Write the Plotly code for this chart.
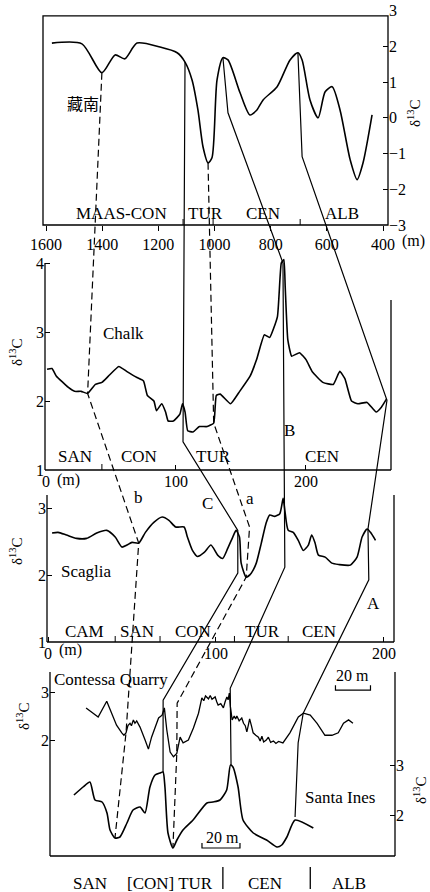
import plotly.graph_objects as go

W, H = 430, 892

# ---------------- data ----------------
# Southern Tibet (藏南): depth (m) vs d13C
tibet_m = [1579, 1472, 1401, 1354, 1319, 1276, 1194, 1133, 1105, 1080, 1059, 1041, 1023, 1009,
           991, 970, 952, 909, 874, 849, 827, 777, 731, 703, 688, 660, 631, 606, 581, 553,
           517, 492, 471, 439]
tibet_d13c = [2.09, 2.07, 1.26, 1.76, 1.65, 2.09, 1.98, 1.82, 1.56, 1.06, 0.22, -0.81, -1.26, -1.12,
              1.06, 1.68, 1.62, 0.70, 0.08, 0.22, 0.50, 0.87, 1.62, 1.82, 1.62, 0.50, 0.0, 0.73, 0.87, 0.22,
              -1.17, -1.73, -1.26, 0.08]
tibet_ticks = [1600, 1400, 1200, 1000, 800, 600, 400]
tibet_yticks = [-3, -2, -1, 0, 1, 2, 3]
tibet_stage_bounds = [1112, 1005, 695]

# Chalk
chalk_m = [0.8, 4.6, 8, 13, 17, 22, 27, 32, 38, 43, 48, 56, 62, 70, 75, 78, 83, 85, 89, 92,
           94, 98, 103, 105, 107, 109, 113, 118, 124, 129, 131, 134, 142, 149, 157, 162, 168, 172, 178, 181,
           183, 184, 186, 189, 195, 200, 205, 213, 221, 226, 230, 235, 240, 247, 254, 258, 262]
chalk_d13c = [2.46, 2.47, 2.36, 2.27, 2.2, 2.14, 2.14, 2.11, 2.24, 2.27, 2.36, 2.5, 2.43, 2.34, 2.29, 2.08, 2.0, 1.86, 1.96, 1.84,
              1.71, 1.71, 1.81, 1.96, 1.84, 1.57, 1.55, 1.63, 1.63, 1.68, 2.08, 2.1, 1.96, 2.14, 2.36, 2.6, 2.96, 2.92, 3.22, 4.0,
              4.05, 3.66, 2.89, 2.65, 2.7, 2.6, 2.42, 2.27, 2.24, 2.43, 2.32, 2.0, 1.96, 1.98, 1.84, 1.91, 2.03]
chalk_ticks = [0, 100, 200]
chalk_yticks = [1, 2, 3, 4]
chalk_stage_bounds = [43]

# Scaglia
scaglia_m = [2.4, 6, 11, 17, 23, 29, 35, 40, 44, 47, 50, 54, 58, 63, 68, 72, 76, 81, 83, 86,
             89, 93, 97, 101, 104, 107, 110, 112, 114, 115, 118, 121, 124, 127, 130, 132, 135, 138, 140, 141,
             143, 146, 149, 152, 155, 157, 159, 161, 165, 169, 173, 180, 184, 187, 190, 192, 195]
scaglia_d13c = [2.63, 2.64, 2.6, 2.55, 2.55, 2.63, 2.67, 2.57, 2.42, 2.45, 2.49, 2.48, 2.64, 2.79, 2.87, 2.82, 2.72, 2.72, 2.57, 2.37,
                2.28, 2.34, 2.45, 2.3, 2.25, 2.4, 2.57, 2.67, 2.57, 2.18, 1.97, 2.03, 2.18, 2.48, 2.79, 2.9, 2.88, 2.92, 3.15, 2.97,
                2.67, 2.64, 2.52, 2.37, 2.45, 2.6, 2.48, 2.3, 2.27, 2.18, 2.16, 2.15, 2.27, 2.57, 2.69, 2.64, 2.52]
scaglia_ticks = [0, 100, 200]
scaglia_yticks = [1, 2, 3]
scaglia_stage_bounds = [40, 66.7, 111, 143]

# Contessa Quarry (relative metres)
contessa_m = [20.6, 27.5, 32.4, 35.2, 38, 41, 42.2, 43.4, 44.5, 45.7, 46.5, 47.6, 48.5, 49.5, 51.4, 54.3, 56.2, 58, 60, 62,
              64, 65.3, 66.7, 68.6, 70.5, 72.4, 74.3, 76, 79, 81.9, 84.8, 86.7, 87.8, 88.8, 90.5, 91.5, 92.5, 94.3, 95.2, 96,
              97.5, 99, 100, 101, 101.7, 102.4, 103, 104, 105.2, 106, 106.7, 108, 109.5, 110.5, 111.5, 112.4, 113.2, 114, 115, 116,
              117.5, 119, 120, 121, 122, 123.5, 124.7, 126, 127.6, 129, 130.5, 133, 137, 141.8, 144.7, 148.6, 152.5, 157, 161, 164.6,
              167.6, 170.5, 173]
contessa_d13c = [2.67, 2.48, 2.81, 2.56, 2.31, 2.15, 2.1, 2.15, 2.3, 2.35, 2.3, 2.42, 2.35, 2.4, 2.27, 2.0, 1.81, 2.06, 2.25, 2.46,
                 2.52, 2.67, 2.21, 1.75, 1.65, 1.72, 2.06, 1.94, 2.0, 2.25, 2.56, 2.88, 2.82, 2.92, 2.86, 2.93, 2.85, 2.9, 2.8, 2.73,
                 2.76, 2.67, 2.8, 2.9, 2.84, 2.98, 2.7, 2.42, 2.5, 2.44, 2.5, 2.4, 2.46, 2.35, 2.3, 2.17, 2.3, 2.44, 2.3, 2.15,
                 2.1, 2.06, 1.98, 2.08, 1.96, 2.0, 2.06, 1.95, 1.98, 1.93, 1.97, 1.94, 2.15, 2.48, 2.56, 2.52, 2.35, 2.1, 2.1, 2.15,
                 2.35, 2.42, 2.35]
contessa_yticks = [2, 3]

# Santa Ines (relative metres)
santa_m = [12.6, 17.4, 21, 23.7, 27.4, 30, 31.6, 34.2, 36.8, 40.5, 43.7, 47.4, 50, 52.6, 55.3, 57.9, 59.5, 60.5, 62.1, 64.7,
           66.8, 70, 75.3, 82.6, 85.8, 89.5, 93, 95, 96.3, 99, 101.6, 107, 114, 119.5, 122, 124.7, 129, 138.6]
santa_d13c = [2.4, 2.56, 2.66, 2.3, 2.26, 2.04, 1.7, 1.54, 1.56, 1.84, 2.1, 2.16, 2.04, 2.56, 2.8, 2.84, 2.86, 2.56, 1.64, 1.34,
              1.5, 1.7, 1.9, 2.24, 2.26, 2.3, 2.5, 3.0, 2.96, 2.56, 1.9, 1.64, 1.5, 1.36, 1.4, 1.56, 1.9, 1.74]
santa_yticks = [2, 3]
bottom_stage_bounds = [91, 137]   # Santa Ines metres
scale_bar_m = 20

# Correlation (tie) lines: (section, metres, d13C)
tie_b = [("tibet", 1401, 1.26), ("chalk", 32, 2.11), ("scaglia", 54, 2.48),
         ("contessa", 43.4, 2.15), ("santa", 34.2, 1.54)]
tie_a = [("tibet", 1023, -1.26), ("chalk", 129, 1.68), ("scaglia", 120, 2.72), ("scaglia", 118, 1.97),
         ("contessa", 72.6, 2.77), ("contessa", 72.4, 1.72), ("santa", 64.7, 1.34)]
tie_C = [("tibet", 1105, 1.56), ("chalk", 105.4, 1.41), ("scaglia", 113, 2.67), ("scaglia", 113, 2.03),
         ("contessa", 64.6, 2.83), ("santa", 59.5, 2.86)]
tie_B = [("tibet", 970, 1.68), ("tibet", 952, 0.14), ("chalk", 182.3, 4.0), ("scaglia", 141, 3.15),
         ("scaglia", 141, 2.12), ("contessa", 102.9, 3.08), ("santa", 95.3, 3.0)]
tie_A = [("tibet", 703, 1.82), ("tibet", 688, -1.09), ("chalk", 262.3, 2.01), ("scaglia", 190.5, 2.69),
         ("scaglia", 191, 1.93), ("contessa", 144.6, 2.56), ("contessa", 141.7, 1.94), ("santa", 129, 1.96)]

# ---------------- layout geometry (pixels) ----------------
GEO = {
    "tibet":    dict(xd=(43, 388), xr=(1610.7, 382.2), yd=(10.6, 225), yr=(-3, 3)),
    "chalk":    dict(xd=(45, 391), xr=(-0.77, 265.4), yd=(257.5, 470), yr=(1, 4.08)),
    "scaglia":  dict(xd=(47, 394), xr=(-0.6, 206), yd=(493.6, 642), yr=(1, 3.22)),
    "contessa": dict(xd=(50, 395), xr=(0, 197), yd=(672, 856), yr=(-0.42, 3.42)),
    "santa":    dict(xd=(50, 395), xr=(0, 181.6), yd=(672, 856), yr=(1.18, 4.86)),
}
AX = {"tibet": ("x", "y"), "chalk": ("x2", "y2"), "scaglia": ("x3", "y3"),
      "contessa": ("x4", "y4"), "santa": ("x5", "y5")}


def to_px(panel, x, y):
    g = GEO[panel]
    (xa, xb), (r0, r1) = g["xd"], g["xr"]
    (yt, yb), (lo, hi) = g["yd"], g["yr"]
    return (xa + (x - r0) / (r1 - r0) * (xb - xa),
            yb - (y - lo) / (hi - lo) * (yb - yt))


def dom_x(p):
    g = GEO[p]
    return [g["xd"][0] / W, g["xd"][1] / W]


def dom_y(p):
    g = GEO[p]
    return [1 - g["yd"][1] / H, 1 - g["yd"][0] / H]


SERIF = "Liberation Serif"
CJK = "Noto Sans CJK SC"
tf = dict(family=SERIF, size=16, color="black")

fig = go.Figure()


def curve(panel, xs, ys, shape="spline", smooth=0.6, width=1.6):
    xa, ya = AX[panel]
    line = dict(color="black", width=width, shape=shape)
    if shape == "spline":
        line["smoothing"] = smooth
    fig.add_trace(go.Scatter(x=xs, y=ys, xaxis=xa, yaxis=ya, mode="lines",
                             line=line, hoverinfo="skip", showlegend=False))


curve("tibet", tibet_m, tibet_d13c, smooth=0.7)
curve("chalk", chalk_m, chalk_d13c, smooth=0.4)
curve("scaglia", scaglia_m, scaglia_d13c, smooth=0.6)
curve("contessa", contessa_m, contessa_d13c, shape="linear", width=1.3)
curve("santa", santa_m, santa_d13c, smooth=0.6)

# tie lines on a full-figure pixel overlay
for tie, dash in [(tie_b, "7px,4px"), (tie_a, "7px,4px"), (tie_C, "solid"),
                  (tie_B, "solid"), (tie_A, "solid")]:
    pts = [to_px(*p) for p in tie]
    fig.add_trace(go.Scatter(x=[p[0] for p in pts], y=[p[1] for p in pts], xaxis="x6", yaxis="y6",
                             mode="lines", line=dict(color="black", width=1.2, dash=dash),
                             hoverinfo="skip", showlegend=False))

# scale bars (20 m) for Contessa and Santa Ines
for panel, x0, y0 in [("contessa", 163, 3.04), ("santa", 80, 1.34)]:
    g = GEO[panel]
    dy = 5 / (g["yd"][1] - g["yd"][0]) * (g["yr"][1] - g["yr"][0])
    xa, ya = AX[panel]
    fig.add_trace(go.Scatter(x=[x0, x0, x0 + scale_bar_m, x0 + scale_bar_m],
                             y=[y0 + dy, y0, y0, y0 + dy], xaxis=xa, yaxis=ya, mode="lines",
                             line=dict(color="black", width=1.2), hoverinfo="skip", showlegend=False))

# ---------------- shapes: frames and stage ticks ----------------
shapes = []
L = dict(color="black", width=1.3)


def seg(xref, yref, x0, y0, x1, y1, line=L):
    shapes.append(dict(type="line", xref=xref, yref=yref, x0=x0, y0=y0, x1=x1, y1=y1, line=line))


# Tibet full box
shapes.append(dict(type="rect", xref="x domain", yref="y domain", x0=0, x1=1, y0=0,
                   y1=(2.85 + 3) / 6, line=L))
# Chalk: left, bottom, right
seg("x2 domain", "y2 domain", 0, 0, 0, 3 / 3.08)
seg("x2 domain", "y2 domain", 0, 0, 1, 0)
seg("x2 domain", "y2 domain", 1, 0, 1, 0.8)
# Scaglia
seg("x3 domain", "y3 domain", 0, 0, 0, 0.99)
seg("x3 domain", "y3 domain", 0, 0, 1, 0)
seg("x3 domain", "y3 domain", 1, 0, 1, 0.99)
# Contessa / Santa Ines
seg("x4 domain", "y4 domain", 0, 0, 0, 1)
seg("x4 domain", "y4 domain", 0, 0, 1, 0)
seg("x4 domain", "y4 domain", 1, 0, 1, 1)

for panel, bounds in [("tibet", tibet_stage_bounds), ("chalk", chalk_stage_bounds),
                      ("scaglia", scaglia_stage_bounds)]:
    g = GEO[panel]
    xa, ya = AX[panel]
    h = 6 / (g["yd"][1] - g["yd"][0])
    for b in bounds:
        seg(xa, ya + " domain", b, 0, b, h, dict(color="black", width=1))

for b in bottom_stage_bounds:
    seg("x5", "y6", b, 867, b, 889, dict(color="black", width=1.3))

# ---------------- text ----------------
ann = []


def txt(s, x, y, size=17, font=SERIF, xanchor="center", angle=0):
    ann.append(dict(text=s, x=x, y=y, xref="x6", yref="y6", showarrow=False, xanchor=xanchor,
                    yanchor="middle", textangle=angle, font=dict(family=font, size=size, color="black")))


d13 = "δ<sup>13</sup>C"
txt("藏南", 83, 103, 16, CJK)
for s, x in [("MAAS-CON", 121), ("TUR", 205), ("CEN", 263), ("ALB", 342)]:
    txt(s, x, 213)
txt("(m)", 413, 241, 16)
txt(d13, 414, 113, 15, angle=-90)

txt("Chalk", 123, 333)
txt("B", 289, 430)
for s, x in [("SAN", 75), ("CON", 139), ("TUR", 213), ("CEN", 322)]:
    txt(s, x, 456)
txt("(m)", 68, 480, 16)
txt(d13, 16, 352, 15, angle=-90)

txt("b", 138, 497)
txt("C", 207, 503)
txt("a", 250, 498)
txt("Scaglia", 86, 571)
txt("A", 373, 603)
for s, x in [("CAM", 84), ("SAN", 137), ("CON", 193), ("TUR", 262), ("CEN", 319)]:
    txt(s, x, 631)
txt("(m)", 70, 650, 16)
txt(d13, 16, 551, 15, angle=-90)

txt("Contessa Quarry", 52, 679, xanchor="left")
txt("20 m", 352, 675, 16)
txt("20 m", 222, 837, 16)
txt("Santa Ines", 340, 797)
txt(d13, 23, 716, 15, angle=-90)
txt(d13, 420, 790, 15, angle=-90)
for s, x in [("SAN", 90), ("[CON] TUR", 170), ("CEN", 265), ("ALB", 349)]:
    txt(s, x, 883)

# ---------------- axes ----------------
base = dict(showgrid=False, zeroline=False, showline=False, tickfont=tf, tickcolor="black",
            ticklen=5, tickwidth=1.2, fixedrange=True, automargin=False)

fig.update_layout(
    width=W, height=H, autosize=False,
    margin=dict(l=0, r=0, t=0, b=0, pad=0, autoexpand=False),
    paper_bgcolor="white", plot_bgcolor="rgba(0,0,0,0)",
    showlegend=False,
    xaxis=dict(base, domain=dom_x("tibet"), range=list(GEO["tibet"]["xr"]), anchor="y",
               tickvals=tibet_ticks, ticks="outside"),
    yaxis=dict(base, domain=dom_y("tibet"), range=list(GEO["tibet"]["yr"]), anchor="x",
               side="right", tickvals=tibet_yticks, ticks="inside"),
    xaxis2=dict(base, domain=dom_x("chalk"), range=list(GEO["chalk"]["xr"]), anchor="y2",
                tickvals=chalk_ticks, ticks="inside"),
    yaxis2=dict(base, domain=dom_y("chalk"), range=list(GEO["chalk"]["yr"]), anchor="x2",
                tickvals=chalk_yticks, ticks="inside"),
    xaxis3=dict(base, domain=dom_x("scaglia"), range=list(GEO["scaglia"]["xr"]), anchor="y3",
                tickvals=scaglia_ticks, ticks="inside"),
    yaxis3=dict(base, domain=dom_y("scaglia"), range=list(GEO["scaglia"]["yr"]), anchor="x3",
                tickvals=scaglia_yticks, ticks="inside"),
    xaxis4=dict(base, domain=dom_x("contessa"), range=list(GEO["contessa"]["xr"]), anchor="y4",
                visible=False),
    yaxis4=dict(base, domain=dom_y("contessa"), range=list(GEO["contessa"]["yr"]), anchor="x4",
                tickvals=contessa_yticks, ticks="inside"),
    xaxis5=dict(base, range=list(GEO["santa"]["xr"]), overlaying="x4", anchor="y5", visible=False),
    yaxis5=dict(base, range=list(GEO["santa"]["yr"]), overlaying="y4", anchor="x5", side="right",
                tickvals=santa_yticks, ticks="inside"),
    xaxis6=dict(domain=[0, 1], range=[0, W], anchor="y6", visible=False, fixedrange=True, automargin=False),
    yaxis6=dict(domain=[0, 1], range=[H, 0], anchor="x6", visible=False, fixedrange=True, automargin=False),
    shapes=shapes,
    annotations=ann,
)

fig.write_html("out.html", config={"displayModeBar": False},
               post_script="document.body.style.margin='0';document.body.style.overflow='hidden';")
